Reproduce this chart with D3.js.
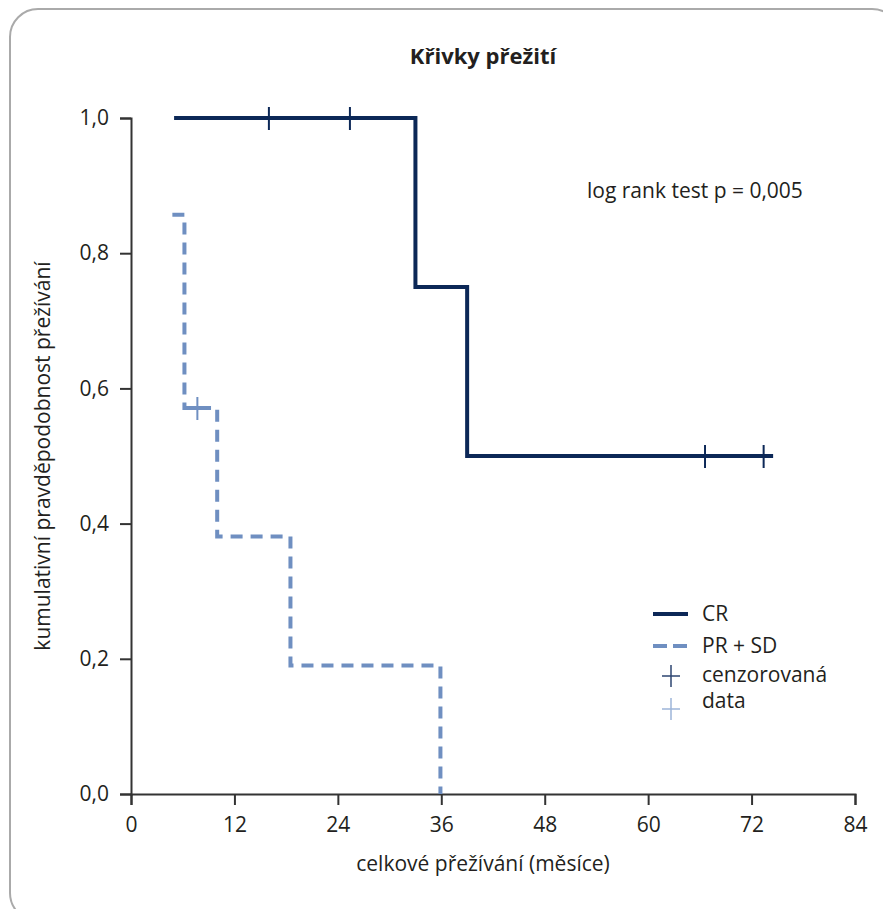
<!DOCTYPE html>
<html>
<head>
<meta charset="utf-8">
<script src="https://cdn.jsdelivr.net/npm/d3@7"></script>
<style>
  body { margin: 0; background: #fff; }
  text { font-family: "Open Sans", sans-serif; fill: #231f20; }
</style>
</head>
<body>
<div id="chart"></div>
<script>
// Kaplan-Meier křivky přežití

// CR skupina
const crTimes = [5, 33, 39, 74.5];
const crSurv = [1, 0.75, 0.5, 0.5];
const crCensored = [16, 25.4, 66.6, 73.4];

// PR + SD skupina
const prTimes = [4.8, 6.2, 10, 18.5, 35.9];
const prSurv = [0.857, 0.571, 0.381, 0.190, 0];
const prCensored = [7.7];

const xTicks = [0, 12, 24, 36, 48, 60, 72, 84];
const yTicks = [0, 0.2, 0.4, 0.6, 0.8, 1.0];

const width = 883;
const height = 909;
const margin = { top: 118, right: 28, bottom: 115, left: 131 };
const fs = "21px";

const navy = "#0c2857";
const blue = "#6f8fc1";
const lightBlue = "#9db4d8";
const axisColor = "#333";

const svg = d3.select("#chart")
    .append("svg")
    .attr("width", width)
    .attr("height", height);

// rámeček
svg.append("rect")
    .attr("x", 10)
    .attr("y", 9)
    .attr("width", 890)
    .attr("height", 912)
    .attr("rx", 28)
    .attr("fill", "none")
    .attr("stroke", "#aaa")
    .attr("stroke-width", 2);

const x = d3.scaleLinear()
    .domain([0, 84])
    .range([margin.left, width - margin.right]);

const y = d3.scaleLinear()
    .domain([0, 1])
    .range([height - margin.bottom, margin.top]);

const cz = d3.formatLocale({ decimal: ",", thousands: " ", grouping: [3], currency: ["", ""] });

// osy
const xAxis = svg.append("g")
    .attr("transform", `translate(0,${y(0)})`)
    .call(d3.axisBottom(x).tickValues(xTicks).tickSize(11).tickPadding(12));

const yAxis = svg.append("g")
    .attr("transform", `translate(${x(0)},0)`)
    .call(d3.axisLeft(y).tickValues(yTicks).tickSize(11).tickPadding(11).tickFormat(cz.format(".1f")));

[xAxis, yAxis].forEach(a => {
    a.selectAll("path, line").attr("stroke", axisColor).attr("stroke-width", 2);
    a.selectAll("text")
        .attr("fill", "#231f20")
        .style("font-size", fs)
        .style("font-family", "'Open Sans', sans-serif");
});

// schodové křivky
const step = d3.line()
    .x(d => x(d[0]))
    .y(d => y(d[1]))
    .curve(d3.curveStepAfter);

svg.append("path")
    .attr("d", step(d3.zip(crTimes, crSurv)))
    .attr("fill", "none")
    .attr("stroke", navy)
    .attr("stroke-width", 4);

svg.append("path")
    .attr("d", step(d3.zip(prTimes, prSurv)))
    .attr("fill", "none")
    .attr("stroke", blue)
    .attr("stroke-width", 4)
    .attr("stroke-dasharray", "12,8");

// hodnota křivky v čase t
function survAt(times, surv, t) {
    const i = d3.bisectRight(times, t) - 1;
    return surv[Math.max(0, i)];
}

// cenzorovaná data
svg.selectAll(".cens-cr")
    .data(crCensored)
    .enter()
    .append("line")
    .attr("x1", d => x(d))
    .attr("x2", d => x(d))
    .attr("y1", d => y(survAt(crTimes, crSurv, d)) - 11)
    .attr("y2", d => y(survAt(crTimes, crSurv, d)) + 12)
    .attr("stroke", navy)
    .attr("stroke-width", 2);

svg.selectAll(".cens-pr")
    .data(prCensored)
    .enter()
    .append("g")
    .each(function(d) {
        const g = d3.select(this);
        const cx = x(d), cy = y(survAt(prTimes, prSurv, d));
        g.append("line")
            .attr("x1", cx).attr("x2", cx)
            .attr("y1", cy - 11).attr("y2", cy + 12)
            .attr("stroke", blue).attr("stroke-width", 2);
        g.append("line")
            .attr("x1", cx - 8).attr("x2", cx + 9)
            .attr("y1", cy).attr("y2", cy)
            .attr("stroke", blue).attr("stroke-width", 4);
    });

// popisky
svg.append("text")
    .attr("x", 483)
    .attr("y", 64)
    .attr("text-anchor", "middle")
    .style("font-size", "22px")
    .style("font-weight", "bold")
    .text("Křivky přežití");

svg.append("text")
    .attr("x", 483)
    .attr("y", 871)
    .attr("text-anchor", "middle")
    .style("font-size", fs)
    .text("celkové přežívání (měsíce)");

svg.append("text")
    .attr("transform", "translate(50,456) rotate(-90)")
    .attr("text-anchor", "middle")
    .style("font-size", fs)
    .text("kumulativní pravděpodobnost přežívání");

svg.append("text")
    .attr("x", 587)
    .attr("y", 198)
    .style("font-size", fs)
    .text("log rank test p = 0,005");

// legenda
const legendLines = [
    { label: "CR", color: navy, dash: null, y: 614 },
    { label: "PR + SD", color: blue, dash: "14,6", y: 646 }
];

const legend = svg.selectAll(".legend")
    .data(legendLines)
    .enter()
    .append("g")
    .attr("class", "legend")
    .attr("transform", d => `translate(653,${d.y})`);

legend.append("line")
    .attr("x1", 0)
    .attr("x2", 35)
    .attr("stroke", d => d.color)
    .attr("stroke-width", 4)
    .attr("stroke-dasharray", d => d.dash);

legend.append("text")
    .attr("x", 49)
    .attr("y", 7)
    .style("font-size", fs)
    .text(d => d.label);

const legendMarks = [
    { label: "cenzorovaná", color: "#2c4470", y: 676 },
    { label: "data", color: lightBlue, y: 709 }
];

const marks = svg.selectAll(".legend-mark")
    .data(legendMarks)
    .enter()
    .append("g")
    .attr("class", "legend-mark")
    .attr("transform", d => `translate(671,${d.y})`);

marks.append("line")
    .attr("x1", 0).attr("x2", 0)
    .attr("y1", -11).attr("y2", 11)
    .attr("stroke", d => d.color)
    .attr("stroke-width", 1.5);

marks.append("line")
    .attr("x1", -9).attr("x2", 9)
    .attr("y1", 0).attr("y2", 0)
    .attr("stroke", d => d.color)
    .attr("stroke-width", 1.5);

marks.append("text")
    .attr("x", 31)
    .attr("y", d => d.y === 676 ? 6 : -1)
    .style("font-size", fs)
    .text(d => d.label);
</script>
</body>
</html>
